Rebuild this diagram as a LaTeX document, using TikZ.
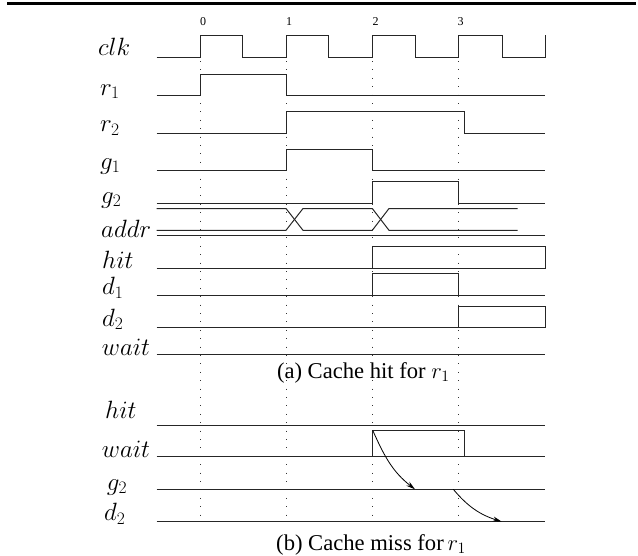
\RequirePackage{fix-cm}
\documentclass[tikz,border=0pt]{standalone}
\usepackage{fontspec}
\setmainfont{Liberation Serif}
\usetikzlibrary{arrows.meta}
\begin{document}
\begin{tikzpicture}[x=1pt,y=-1pt,
  wave/.style={line width=1pt,draw=black!85},
  grid/.style={line width=0.9pt,draw=black!80,dash pattern=on 0.9pt off 7.5pt},
  lbl/.style={anchor=base west,inner sep=0pt,font=\fontsize{25}{30}\selectfont},
  tick/.style={anchor=base west,inner sep=0pt,font=\fontsize{12}{14}\selectfont},
  capt/.style={anchor=center,inner sep=0pt,font=\fontsize{22.6}{27}\selectfont},
  cause/.style={line width=0.8pt,-{Stealth[length=9pt,width=5pt]}}]
\useasboundingbox (0,0) rectangle (638,555);
% top rule
\draw[line width=3pt] (7,3) -- (636,3);
% tick numbers
\node[tick] (n0) at (200,25) {0};
\node[tick] (n1) at (286,25) {1};
\node[tick] (n2) at (372.3,25) {2};
\node[tick] (n3) at (457.5,25) {3};
% dotted grid
\foreach \t in {200,286,372.3,458.6}{\draw[grid] (\t,61) -- (\t,518);}
% labels (a)
\node[lbl] (lclk) at (98,55) {$clk$};
\node[lbl] (lr1) at (100,95) {$r_1$};
\node[lbl] (lr2) at (100,131.5) {$r_2$};
\node[lbl] (lg1) at (100,169) {$g_1$};
\node[lbl] (lg2) at (101,203) {$g_2$};
\node[lbl] (laddr) at (101,237) {$addr$};
\node[lbl] (lhit) at (102,268) {$hit$};
\node[lbl] (ld1) at (102,294.5) {$d_1$};
\node[lbl] (ld2) at (102,326) {$d_2$};
\node[lbl] (lwait) at (101.7,355) {$wait$};
% clk
\draw[wave] (156.7,57) -- (200,57) -- (200,35) -- (242.7,35) -- (242.7,57) -- (286,57) -- (286,35) -- (328.7,35) -- (328.7,57)
  -- (372.3,57) -- (372.3,35) -- (415.7,35) -- (415.7,57) -- (458.6,57) -- (458.6,35) -- (502.3,35) -- (502.3,57) -- (545,57) -- (545,35);
% r1
\draw[wave] (156.7,95.7) -- (200,95.7) -- (200,74) -- (286,74) -- (286,95.7) -- (545,95.7);
% r2
\draw[wave] (156.7,133.3) -- (286,133.3) -- (286,111.7) -- (464,111.7) -- (464,133.3) -- (545,133.3);
% g1
\draw[wave] (156.7,170.7) -- (286,170.7) -- (286,149.3) -- (372.3,149.3) -- (372.3,170.7) -- (545,170.7);
% g2
\draw[wave] (156.7,203) -- (372.3,203) -- (372.3,181) -- (458.6,181) -- (458.6,203) -- (545,203);
% addr bus
\draw[wave] (156.7,208.5) -- (286,208.5) -- (303,230.3) -- (372.3,230.3) -- (389,208.5) -- (517.7,208.5);
\draw[wave] (156.7,230.3) -- (286,230.3) -- (303,208.5) -- (372.3,208.5) -- (389,230.3) -- (517.7,230.3);
\draw[wave] (156.7,235.7) -- (545,235.7);
% hit
\draw[wave] (156.7,268.3) -- (545,268.3) -- (545,246) -- (372.3,246) -- (372.3,268.3);
% d1
\draw[wave] (156.7,295.3) -- (545,295.3);
\draw[wave] (372.3,295.3) -- (372.3,273.3) -- (458.6,273.3) -- (458.6,295.3);
% d2
\draw[wave] (156.7,327.3) -- (545,327.3) -- (545,306) -- (458.6,306) -- (458.6,327.3);
% wait
\draw[wave] (156.7,354.3) -- (545,354.3);
\node[capt] (capa) at (363.3,372.5) {(a) Cache hit for $r_1$};
% part (b)
\node[lbl] (bhit) at (105,418) {$hit$};
\node[lbl] (bwait) at (101.7,457.5) {$wait$};
\node[lbl] (bg2) at (106.7,490) {$g_2$};
\node[lbl] (bd2) at (104,520.5) {$d_2$};
\draw[wave] (156.7,425) -- (545,425);
\draw[wave] (156.7,456.7) -- (545,456.7);
\draw[wave] (372.3,456.7) -- (372.3,430) -- (464,430) -- (464,456.7);
\draw[wave] (156.7,489.3) -- (545,489.3);
\draw[wave] (156.7,521.7) -- (545,521.7);
\coordinate (a1s) at (372.8,430.5);
\coordinate (a1e) at (415,489.3);
\coordinate (a2s) at (453.3,489.3);
\coordinate (a2e) at (501.7,521.7);
\draw[cause] (a1s) to[out=-66,in=142] (a1e);
\draw[cause] (a2s) to[out=-50,in=162] (a2e);
\node[capt] (capb) at (371,544.5) {(b) Cache miss for\,$r_1$};
\end{tikzpicture}
\end{document}
